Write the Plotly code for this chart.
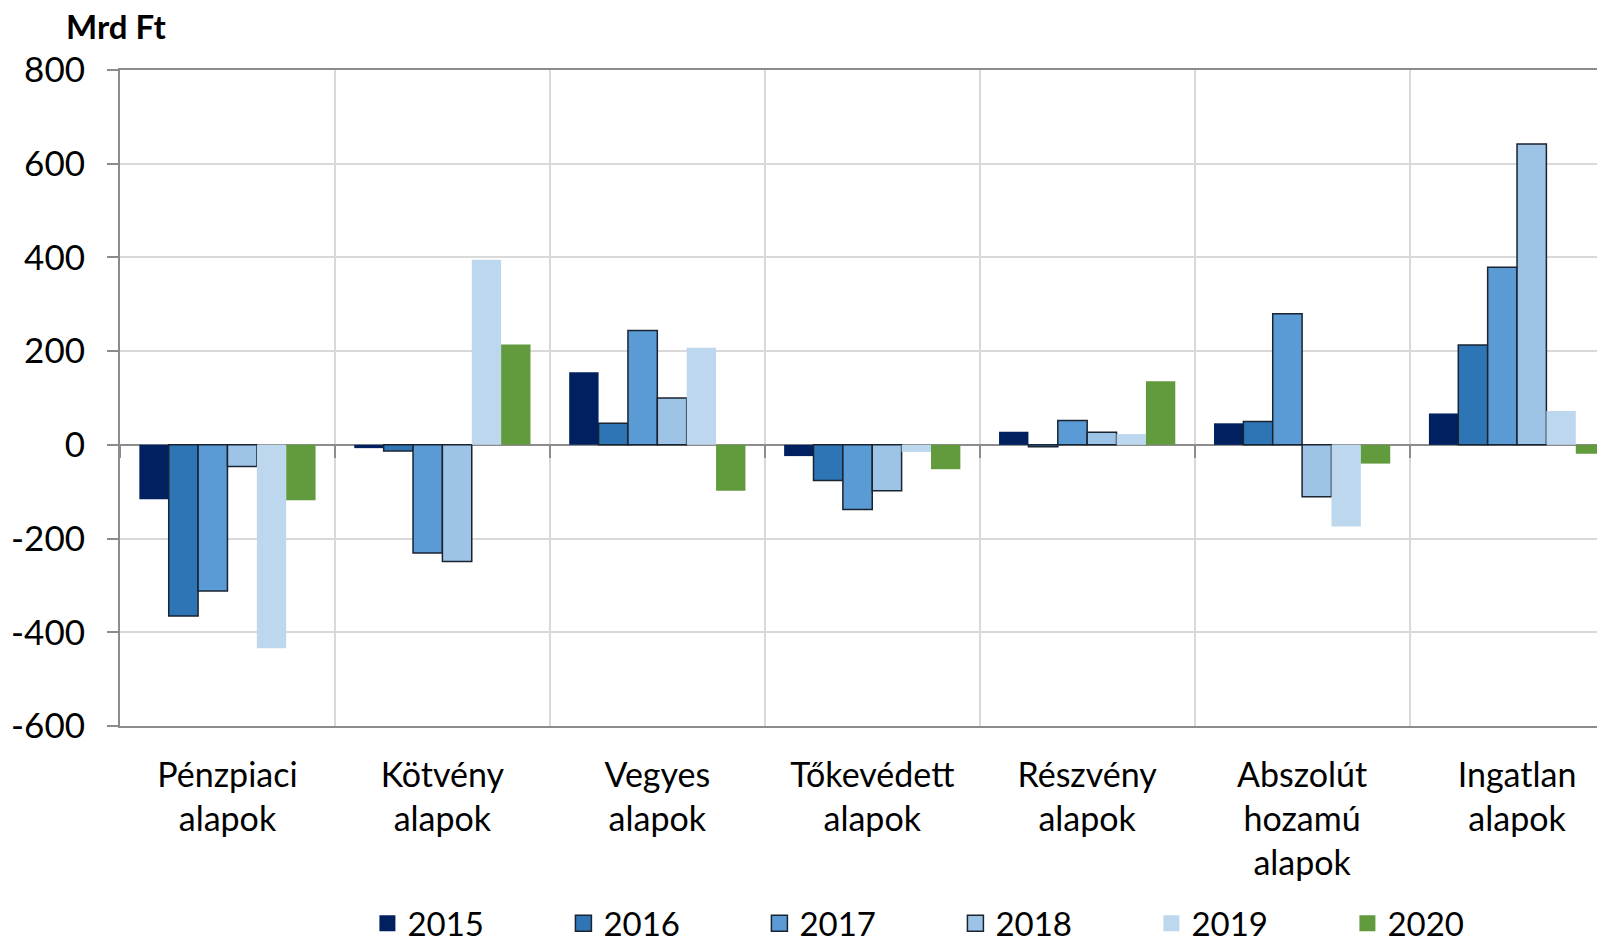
import plotly.graph_objects as go

categories = ["Pénzpiaci<br>alapok", "Kötvény<br>alapok", "Vegyes<br>alapok",
              "Tőkevédett<br>alapok", "Részvény<br>alapok",
              "Abszolút<br>hozamú<br>alapok", "Ingatlan<br>alapok"]
years = ["2015", "2016", "2017", "2018", "2019", "2020"]
v2015 = [-116, -7, 155, -24, 28, 46, 67]
v2016 = [-365, -13, 46, -76, -4, 50, 213]
v2017 = [-312, -231, 244, -138, 52, 280, 379]
v2018 = [-46, -249, 100, -98, 27, -111, 642]
v2019 = [-434, 395, 207, -15, 23, -174, 72]
v2020 = [-118, 214, -98, -52, 136, -40, -19]
series = [v2015, v2016, v2017, v2018, v2019, v2020]
yticks = [-600, -400, -200, 0, 200, 400, 600, 800]
ytick_text = [str(v) for v in yticks]

colors = ["#002060", "#2E75B6", "#5B9BD5", "#9DC3E6", "#BDD7EE", "#629A3E"]
borders = [None, "#1a2330", "#1a2330", "#1a2330", None, None]

FONT = "Lato"
# page has an 8px body margin; figure is sized to end exactly at the window edge
OFF = 8
W, H = 1605 - OFF, 941 - OFF
L = 119.5 - OFF
T = 69.6 - OFF
BOT = 725.7 - OFF
B = H - BOT
PH = BOT - T
PW = W - L

xpos = list(range(len(categories)))
bounds = [i - 0.5 for i in range(len(categories) + 1)]

fig = go.Figure()
for yr, vals, c, bc in zip(years, series, colors, borders):
    fig.add_trace(go.Bar(
        x=xpos, y=vals, name=yr, showlegend=False,
        marker=dict(color=c, line=dict(color=bc if bc else c, width=1.5 if bc else 0)),
    ))
for yr, c, bc in zip(years, colors, borders):
    fig.add_trace(go.Scatter(
        x=[None], y=[None], mode="markers", name=yr,
        marker=dict(symbol="square", size=20, color=c,
                    line=dict(color=bc if bc else c, width=1.5 if bc else 0)),
    ))

cat_w = 215.0
xmax = -0.5 + PW / cat_w

fig.update_layout(
    width=W, height=H,
    margin=dict(l=L, r=0, t=T, b=B, pad=0, autoexpand=False),
    paper_bgcolor="white", plot_bgcolor="white",
    font=dict(family=FONT, size=34, color="black"),
    barmode="group", bargap=0.18, bargroupgap=0,
    showlegend=True,
    legend=dict(orientation="h", x=(359 - L) / PW, xanchor="left",
                y=(BOT - (923 - OFF)) / PH, yanchor="middle",
                font=dict(family=FONT, size=33, color="black"),
                entrywidth=151, itemwidth=30, bgcolor="rgba(0,0,0,0)"),
    xaxis=dict(range=[-0.5, xmax], tickvals=xpos, ticktext=categories,
               showgrid=False, zeroline=False, ticks="",
               showline=True, linecolor="#8c8c8c", linewidth=2, mirror=True,
               ticklabelstandoff=18,
               tickfont=dict(family=FONT, size=34, color="black")),
    xaxis2=dict(range=[-0.5, xmax], overlaying="x", anchor="free",
                position=600 / 1400, tickvals=bounds, showticklabels=False,
                ticks="outside", ticklen=12, tickwidth=2, tickcolor="#8c8c8c",
                showgrid=True, gridcolor="#d9d9d9", gridwidth=1.5,
                zeroline=False, showline=False),
    yaxis=dict(range=[-600, 800], tickvals=yticks, ticktext=ytick_text,
               ticks="outside", ticklen=11,
               tickwidth=2, tickcolor="#8c8c8c",
               showline=True, linecolor="#8c8c8c", linewidth=2,
               showgrid=True, gridcolor="#d9d9d9", gridwidth=1.5,
               zeroline=True, zerolinecolor="#8c8c8c", zerolinewidth=2,
               ticklabelstandoff=15,
               tickfont=dict(family=FONT, size=35, color="black")),
    annotations=[dict(text="<b>Mrd Ft</b>", xref="paper", yref="paper",
                      x=(63.5 - OFF - L) / PW, xanchor="left",
                      y=(BOT - (25.6 - OFF)) / PH, yanchor="middle",
                      showarrow=False, font=dict(family=FONT, size=33, color="black"))],
)
fig.add_trace(go.Scatter(x=[None], y=[None], xaxis="x2", showlegend=False, hoverinfo="skip"))

fig.write_html("out.html")
